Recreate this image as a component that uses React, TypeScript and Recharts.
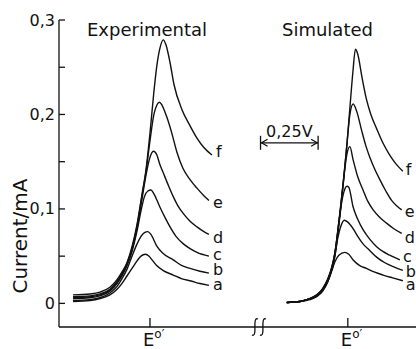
import React from "react";
import {
  LineChart,
  Line,
  XAxis,
  YAxis,
  ReferenceLine,
  ReferenceDot,
  LabelList,
} from "recharts";

type Pt = [number, number];

// [potential vs E°' (V), current (mA)] — experimental voltammograms
const expA: Pt[] = [
  [-0.334, 0.002], [-0.26, 0.003], [-0.217, 0.005], [-0.174, 0.009], [-0.143, 0.015],
  [-0.122, 0.021], [-0.1, 0.029], [-0.078, 0.037], [-0.056, 0.045], [-0.039, 0.05],
  [-0.02, 0.052], [-0.004, 0.05], [0.009, 0.046], [0.029, 0.04], [0.056, 0.035],
  [0.101, 0.03], [0.139, 0.026], [0.174, 0.024], [0.217, 0.021], [0.256, 0.019],
];
const expB: Pt[] = [
  [-0.334, 0.003], [-0.26, 0.004], [-0.217, 0.006], [-0.174, 0.011], [-0.143, 0.018],
  [-0.122, 0.026], [-0.1, 0.036], [-0.078, 0.05], [-0.056, 0.063], [-0.039, 0.071],
  [-0.024, 0.075], [-0.009, 0.076], [0.004, 0.073], [0.029, 0.061], [0.056, 0.053],
  [0.101, 0.046], [0.139, 0.04], [0.174, 0.037], [0.217, 0.034], [0.256, 0.032],
];
const expC: Pt[] = [
  [-0.334, 0.005], [-0.26, 0.006], [-0.217, 0.008], [-0.174, 0.013], [-0.143, 0.021],
  [-0.122, 0.029], [-0.1, 0.04], [-0.078, 0.055], [-0.056, 0.077], [-0.039, 0.098],
  [-0.024, 0.113], [-0.009, 0.119], [0.004, 0.12], [0.017, 0.116], [0.043, 0.102],
  [0.065, 0.091], [0.087, 0.081], [0.113, 0.071], [0.145, 0.063], [0.174, 0.058],
  [0.204, 0.054], [0.256, 0.05],
];
const expD: Pt[] = [
  [-0.334, 0.006], [-0.26, 0.007], [-0.217, 0.009], [-0.174, 0.014], [-0.143, 0.022],
  [-0.122, 0.03], [-0.1, 0.041], [-0.078, 0.057], [-0.056, 0.08], [-0.035, 0.11],
  [-0.017, 0.136], [-0.002, 0.153], [0.015, 0.161], [0.03, 0.157], [0.043, 0.147],
  [0.058, 0.138], [0.078, 0.126], [0.101, 0.113], [0.122, 0.103], [0.145, 0.095],
  [0.174, 0.087], [0.204, 0.081], [0.234, 0.076], [0.256, 0.073],
];
const expE: Pt[] = [
  [-0.334, 0.007], [-0.26, 0.008], [-0.217, 0.01], [-0.174, 0.015], [-0.143, 0.023],
  [-0.122, 0.031], [-0.1, 0.042], [-0.078, 0.058], [-0.056, 0.082], [-0.035, 0.113],
  [-0.017, 0.14], [0, 0.172], [0.017, 0.2], [0.03, 0.21], [0.041, 0.213],
  [0.052, 0.21], [0.072, 0.198], [0.095, 0.18], [0.117, 0.16], [0.143, 0.143],
  [0.174, 0.131], [0.204, 0.122], [0.234, 0.114], [0.256, 0.109],
];
const expF: Pt[] = [
  [-0.334, 0.009], [-0.26, 0.01], [-0.217, 0.012], [-0.174, 0.017], [-0.143, 0.025],
  [-0.122, 0.033], [-0.1, 0.043], [-0.078, 0.06], [-0.056, 0.084], [-0.035, 0.115],
  [-0.017, 0.142], [0, 0.18], [0.017, 0.224], [0.03, 0.252], [0.043, 0.27],
  [0.058, 0.279], [0.069, 0.274], [0.087, 0.255], [0.104, 0.232], [0.139, 0.205],
  [0.174, 0.188], [0.204, 0.175], [0.234, 0.165], [0.269, 0.157],
];

// simulated voltammograms, same units
const simA: Pt[] = [
  [-0.265, 0.001], [-0.208, 0.002], [-0.165, 0.004], [-0.135, 0.007], [-0.109, 0.013],
  [-0.087, 0.023], [-0.069, 0.035], [-0.056, 0.044], [-0.039, 0.051], [-0.013, 0.054],
  [0.004, 0.052], [0.023, 0.046], [0.052, 0.04], [0.081, 0.037], [0.117, 0.033],
  [0.153, 0.03], [0.195, 0.027], [0.239, 0.024],
];
const simB: Pt[] = [
  [-0.265, 0.001], [-0.208, 0.002], [-0.165, 0.005], [-0.135, 0.008], [-0.109, 0.014],
  [-0.087, 0.024], [-0.069, 0.036], [-0.056, 0.051], [-0.043, 0.07], [-0.03, 0.082],
  [-0.015, 0.088], [0, 0.086], [0.023, 0.079], [0.043, 0.071], [0.066, 0.063],
  [0.095, 0.056], [0.125, 0.049], [0.161, 0.043], [0.197, 0.039], [0.239, 0.035],
];
const simC: Pt[] = [
  [-0.265, 0.001], [-0.208, 0.002], [-0.165, 0.005], [-0.135, 0.008], [-0.109, 0.015],
  [-0.087, 0.025], [-0.069, 0.038], [-0.056, 0.053], [-0.043, 0.077], [-0.03, 0.102],
  [-0.017, 0.118], [-0.004, 0.124], [0.004, 0.123], [0.023, 0.102], [0.043, 0.089],
  [0.066, 0.078], [0.095, 0.068], [0.125, 0.06], [0.152, 0.055], [0.182, 0.051],
  [0.226, 0.046],
];
const simD: Pt[] = [
  [-0.265, 0.001], [-0.208, 0.002], [-0.165, 0.005], [-0.135, 0.009], [-0.109, 0.015],
  [-0.087, 0.025], [-0.069, 0.038], [-0.056, 0.053], [-0.043, 0.077], [-0.03, 0.105],
  [-0.017, 0.134], [-0.004, 0.158], [0.009, 0.166], [0.023, 0.152], [0.043, 0.134],
  [0.066, 0.12], [0.087, 0.108], [0.11, 0.099], [0.139, 0.091], [0.168, 0.085],
  [0.2, 0.079], [0.234, 0.074],
];
const simE: Pt[] = [
  [-0.265, 0.001], [-0.208, 0.002], [-0.165, 0.005], [-0.135, 0.009], [-0.109, 0.016],
  [-0.087, 0.026], [-0.069, 0.039], [-0.056, 0.054], [-0.043, 0.078], [-0.03, 0.105],
  [-0.017, 0.135], [-0.004, 0.168], [0.009, 0.2], [0.023, 0.211], [0.039, 0.203],
  [0.059, 0.184], [0.078, 0.167], [0.095, 0.155], [0.117, 0.142], [0.139, 0.131],
  [0.165, 0.119], [0.19, 0.109], [0.213, 0.103], [0.234, 0.099],
];
const simF: Pt[] = [
  [-0.265, 0.001], [-0.208, 0.002], [-0.165, 0.005], [-0.135, 0.008], [-0.109, 0.014],
  [-0.087, 0.023], [-0.069, 0.036], [-0.056, 0.05], [-0.043, 0.074], [-0.03, 0.102],
  [-0.017, 0.134], [-0.004, 0.168], [0.009, 0.207], [0.022, 0.245], [0.033, 0.269],
  [0.043, 0.264], [0.061, 0.24], [0.081, 0.216], [0.1, 0.2], [0.125, 0.185],
  [0.152, 0.17], [0.182, 0.157], [0.208, 0.148], [0.239, 0.14],
];

const curveNames = ["a", "b", "c", "d", "e", "f"];
const expCurves = [expA, expB, expC, expD, expE, expF];
const simCurves = [simA, simB, simC, simD, simE, simF];

const yTicks = [0, 0.05, 0.1, 0.15, 0.2, 0.25, 0.3];
const yTickLabels = ["0", "", "0,1", "", "0,2", "", "0,3"];
const panelTitles = ["Experimental", "Simulated"];
const yAxisTitle = "Current/mA";
const scaleBarLabel = "0,25V";
const scaleBarVolts = 0.25;

// layout
const W = 416;
const H = 349;
const SIM_SHIFT = 0.859; // position of the simulated E°' on the shared potential axis
const X_DOMAIN = [-0.395, 1.155];
const Y_DOMAIN = [-0.025, 0.3];
const INK = "#111";
const FONT = "'DejaVu Sans', sans-serif";

const expLabelDy = [0, -3, -1, 4, 3, -3];
const simLabelDy = [4, 2, -3, 5, 2, -1];

const toRows = (pts: Pt[], shift: number) =>
  pts.map(([e, i]) => ({ x: e + shift, y: i }));

const YTick = (props: any) => {
  const { x, y, payload } = props;
  const label = yTickLabels[yTicks.indexOf(payload.value)];
  return (
    <g>
      <line x1={x} y1={y} x2={x + 6} y2={y} stroke={INK} strokeWidth={1.3} />
      {label ? (
        <text x={x - 4} y={y} dy={5.5} textAnchor="end" fontSize={16} fill={INK} fontFamily={FONT}>
          {label}
        </text>
      ) : null}
    </g>
  );
};

const XTick = (props: any) => {
  const { x, y } = props;
  return (
    <g>
      <line x1={x} y1={y} x2={x} y2={y - 9} stroke={INK} strokeWidth={1.3} />
      <text x={x - 7} y={y + 19} fontSize={18} fill={INK} fontFamily={FONT}>
        E
        <tspan dy={-8} fontSize={12}>
          o′
        </tspan>
      </text>
    </g>
  );
};

const ScaleBar = (props: any) => {
  const { x1, x2, y1 } = props;
  const y = y1;
  return (
    <g stroke={INK} strokeWidth={1.3} fill="none">
      <line x1={x1} y1={y} x2={x2} y2={y} />
      <line x1={x1} y1={y - 7} x2={x1} y2={y + 7} />
      <line x1={x2} y1={y - 7} x2={x2} y2={y + 7} />
      <polyline points={`${x1 + 7},${y - 3.5} ${x1 + 1},${y} ${x1 + 7},${y + 3.5}`} />
      <polyline points={`${x2 - 7},${y - 3.5} ${x2 - 1},${y} ${x2 - 7},${y + 3.5}`} />
      <text
        x={(x1 + x2) / 2}
        y={y - 6}
        textAnchor="middle"
        fontSize={16}
        fill={INK}
        stroke="none"
        fontFamily={FONT}
      >
        {scaleBarLabel}
      </text>
    </g>
  );
};

// the "ʃʃ" break on the potential axis
const AxisBreak = (props: any) => {
  const { cx, cy } = props;
  const mark = (mx: number) =>
    `M ${mx + 3} ${cy - 8} Q ${mx} ${cy - 9.5} ${mx} ${cy - 3} L ${mx} ${cy + 3} Q ${mx} ${cy + 9.5} ${mx - 3} ${cy + 8}`;
  return (
    <g stroke={INK} strokeWidth={1.3} fill="none">
      <path d={mark(cx - 4)} />
      <path d={mark(cx + 4)} />
    </g>
  );
};

const endLabel = (name: string, count: number, dx: number, dy: number) => (props: any) => {
  const { x, y, index } = props;
  if (index !== count - 1) return null;
  return (
    <text x={x + dx} y={y + dy} dy={5} fontSize={16} fill={INK} fontFamily={FONT}>
      {name}
    </text>
  );
};

const App = () => {
  return (
    <div style={{ position: "absolute", left: 0, top: 0, width: W, height: H, background: "#fff", fontFamily: FONT }}>
      <div style={{ position: "absolute", left: 87, top: 21, fontSize: 18, lineHeight: "18px", color: INK }}>
        {panelTitles[0]}
      </div>
      <div style={{ position: "absolute", left: 282, top: 21, fontSize: 18, lineHeight: "18px", color: INK }}>
        {panelTitles[1]}
      </div>
      <LineChart width={W} height={H} margin={{ top: 20, right: 0, bottom: 0, left: 0 }}>
        <XAxis
          type="number"
          dataKey="x"
          domain={X_DOMAIN}
          ticks={[0, SIM_SHIFT]}
          tick={<XTick />}
          tickSize={0}
          tickMargin={0}
          height={22}
          allowDataOverflow
          axisLine={{ stroke: INK, strokeWidth: 1.3 }}
          tickLine={false}
        />
        <YAxis
          type="number"
          dataKey="y"
          domain={Y_DOMAIN}
          ticks={yTicks}
          tick={<YTick />}
          tickSize={0}
          tickMargin={0}
          width={59}
          allowDataOverflow
          axisLine={{ stroke: INK, strokeWidth: 1.3 }}
          tickLine={false}
          label={{
            content: () => (
              <text
                transform="translate(27, 236) rotate(-90)"
                textAnchor="middle"
                fontSize={20}
                fill={INK}
                fontFamily={FONT}
              >
                {yAxisTitle}
              </text>
            ),
          }}
        />
        {expCurves.map((pts, i) => (
          <Line
            key={`exp-${i}`}
            data={toRows(pts, 0)}
            dataKey="y"
            type="monotone"
            stroke={INK}
            strokeWidth={1.4}
            dot={false}
            isAnimationActive={false}
          >
            <LabelList dataKey="y" content={endLabel(curveNames[i], pts.length, 4, expLabelDy[i])} />
          </Line>
        ))}
        {simCurves.map((pts, i) => (
          <Line
            key={`sim-${i}`}
            data={toRows(pts, SIM_SHIFT)}
            dataKey="y"
            type="monotone"
            stroke={INK}
            strokeWidth={1.4}
            dot={false}
            isAnimationActive={false}
          >
            <LabelList dataKey="y" content={endLabel(curveNames[i], pts.length, 3, simLabelDy[i])} />
          </Line>
        ))}
        <ReferenceLine
          segment={[
            { x: 0.48, y: 0.17 },
            { x: 0.48 + scaleBarVolts, y: 0.17 },
          ]}
          shape={ScaleBar}
          ifOverflow="visible"
        />
        <ReferenceDot x={0.473} y={Y_DOMAIN[0]} shape={AxisBreak} ifOverflow="visible" />
      </LineChart>
    </div>
  );
};

export default App;
